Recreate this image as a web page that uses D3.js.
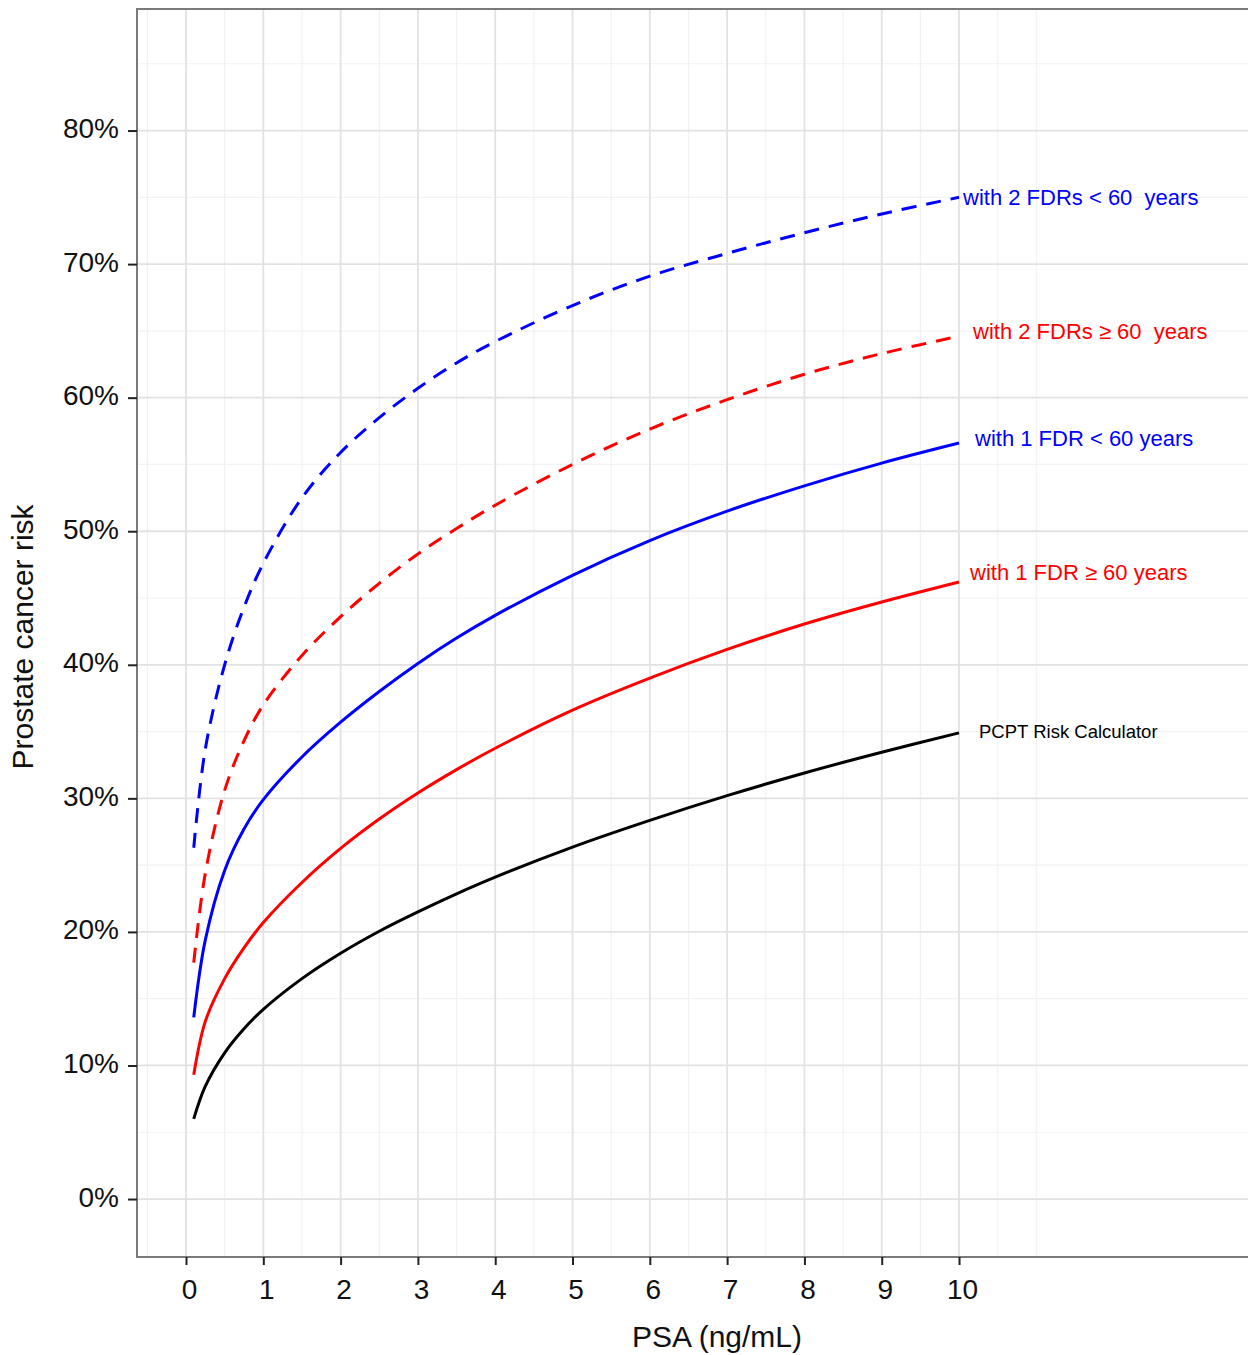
<!DOCTYPE html>
<html>
<head>
<meta charset="utf-8">
<script src="https://cdn.jsdelivr.net/npm/d3@7"></script>
<style>
  body { margin: 0; background: #ffffff; }
  text { font-family: Arial, "Liberation Sans", sans-serif; }
</style>
</head>
<body>
<svg width="1248" height="1355"></svg>
<script>
var psa = [0.1, 0.25, 0.5, 0.75, 1, 1.5, 2, 2.5, 3, 3.5, 4, 5, 6, 7, 8, 9, 10];

// risk in percent, one array per curve
var pcpt        = [6.0, 8.45, 10.95, 12.75, 14.2, 16.5, 18.4, 20.05, 21.5, 22.85, 24.1, 26.35, 28.35, 30.2, 31.9, 33.45, 34.9];
var fdr1Over60  = [9.3, 13.3, 16.5, 18.8, 20.7, 23.7, 26.25, 28.45, 30.4, 32.15, 33.75, 36.6, 39.0, 41.15, 43.05, 44.7, 46.2];
var fdr1Under60 = [13.6, 19.4, 24.6, 27.7, 29.9, 33.1, 35.7, 38.0, 40.1, 42.0, 43.7, 46.7, 49.3, 51.5, 53.4, 55.1, 56.6];
var fdr2Over60  = [17.7, 24.4, 30.6, 34.3, 37.0, 40.7, 43.6, 46.1, 48.3, 50.2, 51.95, 55.0, 57.65, 59.85, 61.75, 63.3, 64.6];
var fdr2Under60 = [26.3, 33.7, 40.0, 44.3, 47.6, 52.5, 55.9, 58.5, 60.7, 62.6, 64.2, 66.9, 69.1, 70.8, 72.35, 73.75, 75.0];

var names = ["PCPT Risk Calculator", "with 1 FDR \u2265 60 years", "with 1 FDR < 60 years",
             "with 2 FDRs \u2265 60  years", "with 2 FDRs < 60  years"];

var xTicks = [0, 1, 2, 3, 4, 5, 6, 7, 8, 9, 10];
var yTicks = [0, 10, 20, 30, 40, 50, 60, 70, 80];

// look of each curve and where its label sits (offset from the line end)
var styles = [
    {color: "#000000", dash: null,    size: 18.5, dx: 20, dy: -1},
    {color: "#ff0000", dash: null,    size: 22,   dx: 11, dy: -10},
    {color: "#0000ff", dash: null,    size: 22,   dx: 16, dy: -5},
    {color: "#ff0000", dash: "15,10", size: 22,   dx: 14, dy: -5},
    {color: "#0000ff", dash: "15,10", size: 22,   dx: 4,  dy: 0}
];

var values = [pcpt, fdr1Over60, fdr1Under60, fdr2Over60, fdr2Under60];

var svg = d3.select("svg");

// plot frame edges
var pLeft = 137, pTop = 9, pRight = 1252, pBottom = 1257;

var x = d3.scaleLinear().domain([-0.634, 13.79]).range([pLeft, pRight]);
var y = d3.scaleLinear().domain([-4.34, 89.1]).range([pBottom, pTop]);

// minor grid
var minorX = d3.range(-0.5, 11.01, 0.5).filter(function(v) { return v % 1 !== 0 || v > 10; });
var minorY = d3.range(5, 90, 10);

svg.selectAll(".minorx").data(minorX).enter().append("line")
    .attr("x1", function(d) { return x(d); }).attr("x2", function(d) { return x(d); })
    .attr("y1", pTop).attr("y2", pBottom)
    .style("stroke", "#f2f2f2").style("stroke-width", 1.2);

svg.selectAll(".minory").data(minorY).enter().append("line")
    .attr("y1", function(d) { return y(d); }).attr("y2", function(d) { return y(d); })
    .attr("x1", pLeft).attr("x2", pRight)
    .style("stroke", "#f2f2f2").style("stroke-width", 1.2);

// major grid
svg.selectAll(".majorx").data(xTicks).enter().append("line")
    .attr("x1", function(d) { return x(d); }).attr("x2", function(d) { return x(d); })
    .attr("y1", pTop).attr("y2", pBottom)
    .style("stroke", "#e2e2e2").style("stroke-width", 1.8);

svg.selectAll(".majory").data(yTicks).enter().append("line")
    .attr("y1", function(d) { return y(d); }).attr("y2", function(d) { return y(d); })
    .attr("x1", pLeft).attr("x2", pRight)
    .style("stroke", "#e2e2e2").style("stroke-width", 1.8);

// frame
svg.append("path")
    .attr("d", "M" + pRight + "," + pTop + "H" + pLeft + "V" + pBottom + "H" + pRight)
    .attr("fill", "none")
    .style("stroke", "#7a7a7a")
    .style("stroke-width", 2);

// axes
var xAxis = svg.append("g")
    .attr("transform", "translate(0," + pBottom + ")")
    .call(d3.axisBottom(x).tickValues(xTicks).tickSize(8).tickPadding(14).tickFormat(d3.format("d")));

var yAxis = svg.append("g")
    .attr("transform", "translate(" + pLeft + ",0)")
    .call(d3.axisLeft(y).tickValues(yTicks).tickSize(9).tickPadding(8).tickFormat(function(d) { return d + "%"; }));

[xAxis, yAxis].forEach(function(g) {
    g.select(".domain").remove();
    g.selectAll(".tick line").style("stroke", "#222").style("stroke-width", 2);
    g.selectAll(".tick text")
        .style("font-family", "Arial, 'Liberation Sans', sans-serif")
        .style("font-size", "28px")
        .style("fill", "#111");
});
xAxis.selectAll(".tick text").attr("dx", 3);
yAxis.selectAll(".tick text").attr("dx", -1).attr("dy", "0.25em");

// axis titles
svg.append("text")
    .attr("x", 717).attr("y", 1347)
    .attr("text-anchor", "middle")
    .style("font-size", "30px")
    .style("fill", "#111")
    .text("PSA (ng/mL)");

svg.append("text")
    .attr("transform", "translate(33,637) rotate(-90)")
    .attr("text-anchor", "middle")
    .style("font-size", "30px")
    .style("fill", "#111")
    .text("Prostate cancer risk");

// curves
var line = d3.line()
    .x(function(d) { return x(d[0]); })
    .y(function(d) { return y(d[1]); })
    .curve(d3.curveCatmullRom.alpha(0.5));

values.forEach(function(vals, k) {
    var st = styles[k];
    var pts = psa.map(function(p, i) { return [p, vals[i]]; });
    svg.append("path")
        .datum(pts)
        .attr("d", line)
        .attr("fill", "none")
        .style("stroke", st.color)
        .style("stroke-width", 3)
        .style("stroke-dasharray", st.dash);

    var last = pts[pts.length - 1];
    svg.append("text")
        .attr("x", x(last[0]) + st.dx)
        .attr("y", y(last[1]) + st.dy)
        .attr("dy", "0.35em")
        .style("font-size", st.size + "px")
        .style("white-space", "pre")
        .style("fill", st.color)
        .text(names[k]);
});
</script>
</body>
</html>
